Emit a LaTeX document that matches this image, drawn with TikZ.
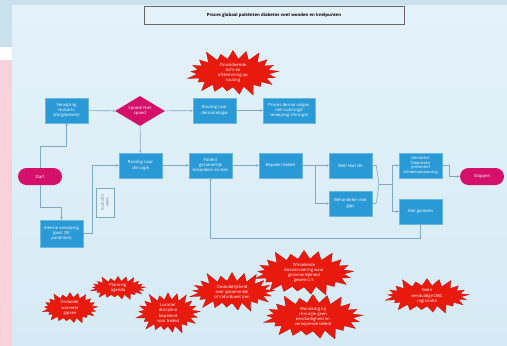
\documentclass[tikz,border=0pt]{standalone}
\usepackage{fontspec}
\setmainfont{Open Sans}
\usepackage{tikz}
\usetikzlibrary{shapes.geometric,shapes.symbols,arrows.meta}

\definecolor{procblauw}{HTML}{2A9AD6}
\definecolor{beslisroze}{HTML}{D5106B}
\definecolor{lijngrijs}{HTML}{7FA9C4}
\definecolor{knelrood}{HTML}{E8190D}
\definecolor{bandblauw}{HTML}{CBE1EE}
\definecolor{vlakboven}{HTML}{E4F2FA}
\definecolor{vlakonder}{HTML}{D6EAF5}
\definecolor{strookroze}{HTML}{F8D2DA}

\begin{document}
\begin{tikzpicture}[x=1pt,y=-1pt,
	proc/.style={draw=procblauw!70!white,fill=procblauw,text=white,minimum width=43pt,minimum height=25pt,inner sep=0.5pt,align=center,font=\fontsize{4.2}{5.2}\selectfont},
	eind/.style={fill=beslisroze,text=white,rounded corners=8.5pt,minimum width=44pt,minimum height=17pt,font=\fontsize{4.2}{5.2}\selectfont},
	keuze/.style={diamond,fill=beslisroze,text=white,minimum width=50pt,minimum height=30pt,aspect=1.7,inner sep=0pt,align=center,font=\fontsize{4.2}{5.2}\selectfont},
	knel/.style={starburst,starburst points=21,fill=knelrood,draw=knelrood!85!black,line width=0.3pt,text=white,align=center,inner sep=0pt,font=\fontsize{4.2}{5.2}\selectfont},
	conn/.style={draw=lijngrijs,line width=0.6pt},
	pijl/.style={conn,-{Stealth[length=2.5pt,width=2.5pt]}}]

	% achtergrond
	\useasboundingbox (0,0) rectangle (507,346);
	\fill[bandblauw] (0,0) rectangle (507,346);
	\shade[top color=vlakboven,bottom color=vlakonder] (12,5) rectangle (507,346);
	\fill[white] (0,47) rectangle (12,60);
	\fill[strookroze] (0,60) rectangle (12,346);

	\node[draw=gray!80!black,fill=vlakboven,minimum width=260pt,minimum height=18pt,font=\fontsize{4.3}{5}\selectfont\bfseries](titel)at(274,15) {Proces globaal patiënten diabetes voet wonden en knelpunten};

	% processtappen
	\node[proc](verw)at(66.5,110.5) {Verwijzing\\Huisarts\\(Zorgdomein)};
	\node[keuze](spoed)at(140,111) {Spoed/ Niet\\spoed};
	\node[proc](derm)at(214.5,110.5) {Routing naar\\dermatologie};
	\node[proc,minimum width=52pt](derma)at(289,110.5) {Proces derma volgen\\met overtuigd\\verwijzing chirurgie};

	\node[eind](start)at(40,176.5) {Start};
	\node[proc](chir)at(140.5,165.5) {Routing naar\\chirurgie};
	\node[proc](patient)at(210.5,165.5) {Patiënt\\gezamenlijk\\bespreken en zien};
	\node[proc](bepalen)at(280.5,165.5) {Bepalen beleid};
	\node[proc](wel)at(350.5,165.5) {Wel/ Niet OK};
	\node[proc](gips)at(350.5,203.5) {Behandelen met\\gips};
	\node[proc,font=\fontsize{4}{4.9}\selectfont](gemeten)at(420.5,165.5) {Gemeten/\\Toepassen\\preventief\\schoenaanpassing};
	\node[eind](stop)at(482,176.5) {Stoppen};
	\node[proc](niet)at(420.5,211.5) {Niet genezen};
	\node[proc,minimum height=27pt](intern)at(61.5,233.5) {Interne verwijzing\\(post OK\\patiënten)};
	\node[draw=lijngrijs,fill=vlakboven,text=gray,minimum width=29pt,minimum height=18pt,rotate=-90,align=center,inner sep=0pt,font=\fontsize{4}{4.8}\selectfont](opname)at(105,202.5) {Geen\\opname};

	\coordinate (samen) at (379,184);
	\coordinate (splits) at (392,184);

	% verbindingen
	\draw[pijl](verw) -- (spoed);
	\draw[pijl](spoed) -- (derm);
	\draw[pijl](derm) -- (derma);
	\draw[pijl](spoed) -- (chir);
	\draw[pijl](start.north) -- ++(0,-22) -| (verw.south);
	\draw[pijl](start.south) -- ++(0,22.5) -| (intern.north);
	\draw[pijl](intern.east) -- ++(9,0) |- (chir.west);
	\draw[pijl](chir) -- (patient);
	\draw[pijl](patient) -- (bepalen);
	\draw[pijl](bepalen) -- (wel);
	\draw[pijl](bepalen.east) -- ++(13,0) |- (gips.west);
	\draw[conn](wel.east) -- ++(4,0) -- (samen);
	\draw[conn](gips.east) -- ++(4,0) -- (samen);
	\draw[conn](samen) -- (splits);
	\draw[pijl](splits) |- (gemeten.west);
	\draw[pijl](splits) |- (niet.west);
	\draw[pijl](gemeten.east) -- ++(7,0) |- (stop.west);
	\draw[pijl](niet.south) -- ++(0,14) -| (patient.south);

	% knelpunten
	\node[knel,minimum width=96pt,minimum height=46pt,starburst point height=12pt](routing)at(233,73) {Onvoldoende\\zicht en\\afstemming op\\routing};
	\node[knel,minimum width=58pt,minimum height=25pt,starburst point height=7pt](gipsen)at(70,308) {Onduidel.\\wanneer\\gipsen};
	\node[knel,minimum width=58pt,minimum height=23pt,starburst point height=7pt](agenda)at(118,288) {Planning\\agenda};
	\node[knel,minimum width=68pt,minimum height=44pt,starburst point height=10pt](locatie)at(168,313) {Locatie/\\discipline\\bepalend\\voor beleid};
	\node[knel,minimum width=90pt,minimum height=46pt,starburst point height=12pt](gezamenlijk)at(232,292) {Onduidelijkheid\\over gezamenlijk\\of individueel zien};
	\node[knel,minimum width=104pt,minimum height=40pt,starburst point height=12pt](dossier)at(304,273) {Wisselende\\dossiervoering waar\\gezamenlijkheid\\gewenst is};
	\node[knel,minimum width=104pt,minimum height=48pt,starburst point height=12pt](wondzorg)at(313,317) {Wondzorg bij\\chirurgie geen\\eenduidigheid en\\verwijzende beleid};
	\node[knel,minimum width=88pt,minimum height=35pt,starburst point height=10pt](dbc)at(427,296) {Geen\\eenduidige DBC\\registratie};
\end{tikzpicture}
\end{document}
